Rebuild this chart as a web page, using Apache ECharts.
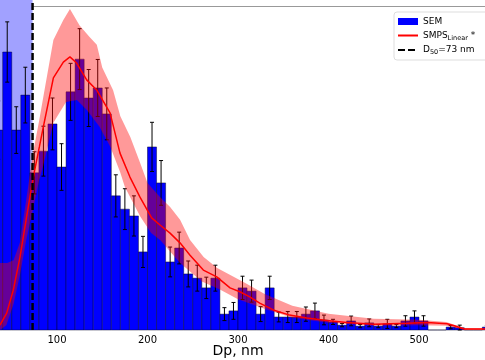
<!DOCTYPE html>
<html><head><meta charset="utf-8">
<script src="https://cdn.jsdelivr.net/npm/echarts@6/dist/echarts.min.js"></script>
<style>html,body{margin:0;padding:0;background:#fff}#c{width:485px;height:360px}</style>
</head><body><div id="c"></div>
<script>
// ---- data (arbitrary normalized units) ----
const binStart = [30,40,50,60,70,80,90,100,110,120,130,140,150,160,170,180,190,200,210,220,230,240,250,260,270,280,290,300,310,320,330,340,350,360,370,380,390,400,410,420,430,440,450,460,470,480,490,500,510,520,530,540,550,560,570];
const binWidth = 10;
const semValues = [61.7,85.8,61.7,72.5,48.5,55.2,63.6,50.3,73.5,83.6,71.6,74.7,66.7,41.4,37.3,35.2,24.1,56.5,45.4,21.0,25.3,17.3,16.0,13.0,16.0,4.9,5.9,13.0,12.0,4.9,13.0,4.0,4.0,4.0,4.9,5.9,3.1,2.5,1.5,2.8,1.2,2.2,1.2,1.9,1.2,2.8,4.0,2.8,0,0,0.9,0.7,0,0,0.9];
const semErrors = [9.0,9.3,7.2,8.6,6.5,7.7,8.0,7.2,8.8,9.4,8.8,8.8,8.0,6.5,6.3,6.2,4.8,7.6,6.9,4.6,4.9,4.0,4.0,3.3,4.0,2.0,2.6,3.6,3.4,2.3,3.6,1.5,1.7,1.7,2.2,2.4,1.5,0.8,0.5,1.5,0.5,1.2,0.5,1.4,0.5,1.6,1.9,1.6,0,0,0.5,0.8,0,0,0.5];

const smpsDp = [37,44.4,51.7,59.1,66.4,73.8,80.5,84.9,96,107,114.3,121.7,132.8,143.8,158.6,169.6,180.6,191.7,204.6,213.8,224.9,235.9,247,261.7,276.5,291.2,302,313,324,339,357,376,398,420,450,487,509,531,539,550,574];
const smpsValues = [1.5,5.2,12.3,22.5,34.9,47.2,56.5,62.7,77.8,82.7,84.3,82.4,77.2,74.1,67.0,54.6,47.2,41.0,34.6,32.4,29.9,26.9,23.1,18.5,16.4,13.0,11.8,10.2,8.3,6.2,4.6,3.7,2.9,2.3,1.8,2.1,2.3,1.9,1.3,0.3,0.3];

const upperDp = [37,45,52,59,66.4,73.8,80.5,84.9,96,107,114.3,125,136,144,150,162,170,181,192,200,214,225,236,247,262,277,308,330,360,400,450,500,530,550,574];
const upperValues = [20.7,20.7,21.5,27,41,55,65,72,89.5,95.7,99.1,94,90.4,88,81,74,66,59.6,51.5,45.4,41,38,34,27.8,22.5,19.1,14.5,11,7.5,5,3.5,3.2,2.5,0.6,0.5];
const lowerDp = [37,44,52,59,66,74,80,85,96,110,122,133,147,159,170,175,192,204,214,236,260,280,300,330,360,400,450,500,530,550,574];
const lowerValues = [0,1.5,8,17,27.8,38,46,51,64,70.4,71,67.9,62.7,56.5,48.5,44.1,35,29.9,27.8,20.7,15,12.5,9.5,6.5,3.8,2.2,1.3,1.5,1.3,0.1,0.1];

const d50 = 73;
const xTicks = [100,200,300,400,500];
const xMin = 0, xMax = 600, yMin = 0, yMax = 101.85, yTop = 100;

// ---- chart ----
const chart = echarts.init(document.getElementById('c'), null, {renderer:'canvas'});
const FONT = 'DejaVu Sans';

const semData = binStart.map((s,i)=>[s, s+binWidth, semValues[i], semErrors[i]]);

const option = {
  animation:false,
  grid:{left:-33.5, right:-24.5, top:0, bottom:30, containLabel:false, outerBoundsMode:'none'},
  xAxis:{type:'value', min:xMin, max:xMax, interval:100,
    axisLine:{show:false}, axisTick:{show:false}, splitLine:{show:false},
    axisLabel:{fontSize:10, color:'#000', fontFamily:FONT, margin:5,
      formatter:v=> xTicks.includes(v)? String(v):''},
    name:'Dp, nm', nameLocation:'middle', nameGap:14, nameMoveOverlap:false,
    nameTextStyle:{fontSize:14, color:'#000', fontFamily:FONT, verticalAlign:'top'}},
  yAxis:{type:'value', min:yMin, max:yMax, show:false},
  legend:{orient:'vertical', left:394, top:12, itemWidth:20, itemHeight:7, itemGap:3,
    padding:[4,20,4,3], backgroundColor:'rgba(255,255,255,0.85)', borderColor:'#ddd', borderWidth:1, borderRadius:3,
    textStyle:{fontSize:9, color:'#000', fontFamily:FONT, lineHeight:11,
      rich:{sub:{fontSize:6.5, fontFamily:FONT, color:'#000', padding:[5,0,0,0]}}},
    data:[{name:'SEM', icon:'rect'}, {name:'SMPS', itemStyle:{opacity:0}}, {name:'D50', itemStyle:{opacity:0}}],
    formatter:n=> n==='SMPS' ? 'SMPS{sub|Linear} *' : (n==='D50' ? 'D{sub|50}=73 nm' : n)
  },
  series:[
    {name:'SEM', type:'custom', z:2, data:semData, itemStyle:{color:'#0000ff'},
      markArea:{silent:true, itemStyle:{color:'rgba(0,0,255,0.37)'}, data:[[{xAxis:xMin},{xAxis:d50}]]},
      renderItem:(params, api)=>{
        const p0 = api.coord([api.value(0), 0]);
        const p1 = api.coord([api.value(1), api.value(2)]);
        return {type:'rect', shape:{x:p0[0], y:p1[1], width:p1[0]-p0[0], height:p0[1]-p1[1]},
          style:{fill:'#0000ff', stroke:'rgba(0,0,40,0.75)', lineWidth:0.6}};
      }},
    {name:'err', type:'custom', z:3, data:semData, silent:true,
      renderItem:(params, api)=>{
        const xc = (api.value(0)+api.value(1))/2, v = api.value(2), e = api.value(3);
        if (v<=0) return null;
        const top = api.coord([xc, v+e]), bot = api.coord([xc, Math.max(0,v-e)]);
        const cw = 2;
        return {type:'group', children:[
          {type:'line', shape:{x1:top[0], y1:top[1], x2:bot[0], y2:bot[1]}, style:{stroke:'#000', lineWidth:1}},
          {type:'line', shape:{x1:top[0]-cw, y1:top[1], x2:top[0]+cw, y2:top[1]}, style:{stroke:'#000', lineWidth:1}},
          {type:'line', shape:{x1:bot[0]-cw, y1:bot[1], x2:bot[0]+cw, y2:bot[1]}, style:{stroke:'#000', lineWidth:1}}
        ]};
      }},
    {name:'band', type:'custom', z:4, silent:true, data:[[0]],
      renderItem:(params, api)=>{
        const pts = [];
        upperDp.forEach((d,i)=>pts.push(api.coord([d, upperValues[i]])));
        for (let i=lowerDp.length-1;i>=0;i--) pts.push(api.coord([lowerDp[i], lowerValues[i]]));
        return {type:'polygon', shape:{points:pts}, style:{fill:'rgba(255,0,0,0.4)'}};
      }},
    {name:'SMPS', type:'line', z:5, symbol:'none', data:smpsDp.map((d,i)=>[d, smpsValues[i]]),
      lineStyle:{color:'#ff0000', width:1.5}, itemStyle:{color:'#ff0000'},
      markLine:{silent:true, symbol:'none', label:{show:false}, lineStyle:{color:'#999', width:1, type:'solid'},
        data:[[{coord:[d50, yTop]},{coord:[xMax, yTop]}]]}},
    {name:'D50', type:'line', z:6, symbol:'none', data:[[d50, yMin],[d50, yMax]],
      lineStyle:{color:'#000', width:2.5, type:[7,3]}, itemStyle:{color:'#000'}}
  ]
};
chart.setOption(option);
</script></body></html>
